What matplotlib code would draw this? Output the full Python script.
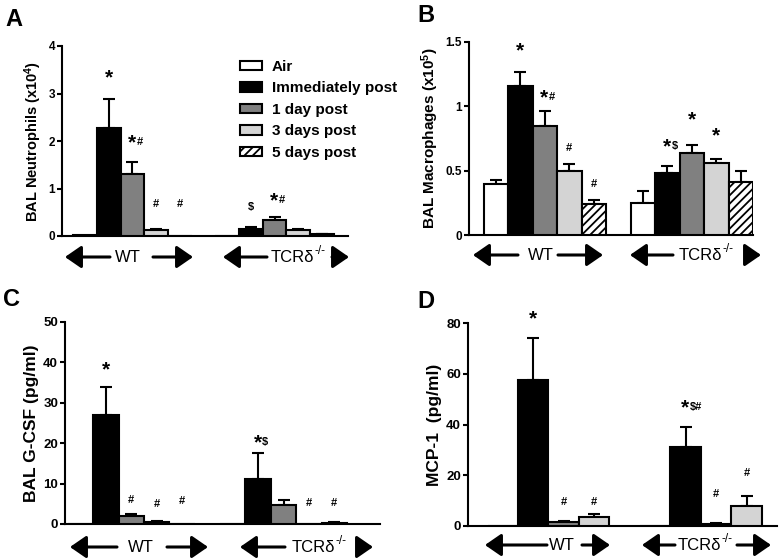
import numpy as np
import matplotlib
matplotlib.use('Agg')
import matplotlib.pyplot as plt

plt.rcParams['font.family'] = ['Liberation Sans', 'DejaVu Sans']
plt.rcParams['mathtext.default'] = 'regular'
plt.rcParams['hatch.linewidth'] = 1.3

categories = ['Air', 'Immediately post', '1 day post', '3 days post', '5 days post']
groups = ['WT', 'TCRδ']
group_sup = ['', '-/-']

# Panel A: BAL neutrophils (x10^4)
neut_wt = [0.02, 2.28, 1.30, 0.12, 0.0]
neut_wt_err = [0.0, 0.61, 0.26, 0.02, 0.0]
neut_ko = [0.0, 0.15, 0.33, 0.12, 0.04]
neut_ko_err = [0.0, 0.03, 0.08, 0.03, 0.01]

# Panel B: BAL macrophages (x10^5)
mac_wt = [0.40, 1.16, 0.85, 0.50, 0.24]
mac_wt_err = [0.03, 0.11, 0.11, 0.05, 0.03]
mac_ko = [0.25, 0.48, 0.64, 0.56, 0.415]
mac_ko_err = [0.09, 0.06, 0.06, 0.03, 0.08]

# Panel C: BAL G-CSF (pg/ml)
gcsf_wt = [0.0, 27.1, 1.9, 0.5, 0.0]
gcsf_wt_err = [0.0, 6.9, 0.6, 0.15, 0.0]
gcsf_ko = [0.0, 11.1, 4.6, 0.1, 0.3]
gcsf_ko_err = [0.0, 6.4, 1.4, 0.0, 0.1]

# Panel D: MCP-1 (pg/ml) -- air, immediately, 1 day, 3 days
mcp_wt = [0.0, 57.6, 1.5, 3.4]
mcp_wt_err = [0.0, 16.4, 0.5, 1.5]
mcp_ko = [0.0, 31.0, 0.8, 7.7]
mcp_ko_err = [0.0, 8.0, 0.3, 4.0]

# significance marks: (group index, category index, y, label)
sig_a = [(0, 1, 3.38, '*'), (0, 2, 2.0, '*#'), (0, 3, 0.68, '#'), (0, 4, 0.68, '#'),
         (1, 1, 0.61, '$'), (1, 2, 0.78, '*#')]
sig_b = [(0, 1, 1.45, '*'), (0, 2, 1.08, '*#'), (0, 3, 0.68, '#'), (0, 4, 0.40, '#'),
         (1, 1, 0.70, '*$'), (1, 2, 0.91, '*'), (1, 3, 0.79, '*')]
sig_c = [(0, 1, 38.7, '*'), (0, 2, 6.0, '#'), (0, 3, 5.0, '#'), (0, 4, 5.6, '#'),
         (1, 1, 20.6, '*$'), (1, 3, 5.3, '#'), (1, 4, 5.3, '#')]
sig_d = [(0, 1, 82.6, '*'), (0, 2, 9.5, '#'), (0, 3, 9.5, '#'),
         (1, 1, 47.3, '*$#'), (1, 2, 12.8, '#'), (1, 3, 20.7, '#')]

fills = ['white', 'black', '#808080', '#d4d4d4', 'white']
hatches = [None, None, None, None, '////']

W, H = 780, 559
fig = plt.figure(figsize=(W / 100, H / 100), dpi=100)


def px_axes(l, t, r, b):
    return fig.add_axes([l / W, 1 - b / H, (r - l) / W, (b - t) / H])


def draw_panel(ax, wt, wt_err, ko, ko_err, gap, sig, ylim, yticks, yticklabels, ylabel,
               xlim, tick_fs, label_fs):
    n = len(wt)
    for g, (vals, errs) in enumerate([(wt, wt_err), (ko, ko_err)]):
        for i in range(n):
            x = g * (n + gap) + i
            ax.bar(x, vals[i], width=1.0, color=fills[i], edgecolor='black',
                   linewidth=1.5, hatch=hatches[i], zorder=3)
            if errs[i] > 0:
                ax.errorbar(x, vals[i], yerr=[[0], [errs[i]]], fmt='none', ecolor='black',
                            elinewidth=1.5, capsize=4, capthick=1.5, zorder=2)
    for g, i, y, lab in sig:
        x = g * (n + gap) + i
        if lab.startswith('*'):
            rest = lab[1:]
            if rest:
                ax.annotate('*', (x, y), xytext=(2.5, -1.5), textcoords='offset points',
                            ha='right', va='center', fontsize=15, fontweight='bold',
                            annotation_clip=False)
                ax.annotate(rest, (x, y), xytext=(3, -1), textcoords='offset points',
                            ha='left', va='center', fontsize=8, fontweight='bold',
                            annotation_clip=False)
            else:
                ax.annotate('*', (x, y), xytext=(0, -1.5), textcoords='offset points',
                            ha='center', va='center', fontsize=15, fontweight='bold',
                            annotation_clip=False)
        else:
            ax.annotate(lab, (x, y), ha='center', va='center', fontsize=8,
                        fontweight='bold', annotation_clip=False)
    ax.set_xlim(*xlim)
    ax.set_ylim(*ylim)
    ax.set_yticks(yticks)
    ax.set_yticklabels(yticklabels, fontsize=tick_fs, fontweight='bold')
    ax.set_xticks([])
    for s in ['top', 'right']:
        ax.spines[s].set_visible(False)
    for s in ['left', 'bottom']:
        ax.spines[s].set_linewidth(1.5)
    ax.tick_params(axis='y', length=3.5, width=1.5, pad=1.5)
    ax.set_ylabel(ylabel, fontsize=label_fs, fontweight='bold', labelpad=3)


renderer = fig.canvas.get_renderer()


def arrow_label(g, cx, y, lh, lt, rt, rh):
    main = fig.text(0, 1 - y / H, groups[g], ha='left', va='center', fontsize=12)
    wm = main.get_window_extent(renderer).width
    ws = 0
    sup = None
    if group_sup[g]:
        sup = fig.text(0, 1 - (y - 6) / H, group_sup[g], ha='left', va='center', fontsize=8.5)
        ws = sup.get_window_extent(renderer).width + 1
    x0 = cx - (wm + ws) / 2
    main.set_x(x0 / W)
    if sup is not None:
        sup.set_x((x0 + wm + 1) / W)
    for tail, head in [(lt, lh), (rt, rh)]:
        fig.add_artist(matplotlib.patches.FancyArrowPatch(
            (tail / W, 1 - y / H), (head / W, 1 - y / H), transform=fig.transFigure,
            arrowstyle='-|>,head_length=0.55,head_width=0.38', mutation_scale=18,
            color='black', linewidth=2.2, shrinkA=0, shrinkB=0))


axA = px_axes(62, 46, 348, 236)
draw_panel(axA, neut_wt, neut_wt_err, neut_ko, neut_ko_err, 1, sig_a, (0, 4),
           [0, 1, 2, 3, 4], ['0', '1', '2', '3', '4'],
           'BAL Neutrophils (x10$^4$)', (-0.97, 11.1), 8.5, 10.5)
axB = px_axes(469, 42, 753, 235)
draw_panel(axB, mac_wt, mac_wt_err, mac_ko, mac_ko_err, 1, sig_b, (0, 1.5),
           [0, 0.5, 1, 1.5], ['0', '0.5', '1', '1.5'],
           'BAL Macrophages (x10$^5$)', (-1.1, 10.5), 8.5, 11)
axC = px_axes(65, 322, 380, 524)
draw_panel(axC, gcsf_wt, gcsf_wt_err, gcsf_ko, gcsf_ko_err, 1, sig_c, (0, 50),
           [0, 10, 20, 30, 40, 50], ['0', '10', '20', '30', '40', '50'],
           'BAL G-CSF (pg/ml)', (-0.61, 11.8), 9.5, 12.5)
axD = px_axes(468, 323, 777, 526)
draw_panel(axD, mcp_wt, mcp_wt_err, mcp_ko, mcp_ko_err, 1, sig_d, (0, 80),
           [0, 20, 40, 60, 80], ['0', '20', '40', '60', '80'],
           'MCP-1  (pg/ml)', (-1.14, 9.0), 9.5, 12.5)

handles = [matplotlib.patches.Patch(facecolor=fills[i], edgecolor='black', linewidth=1.5,
                                    hatch=hatches[i]) for i in range(5)]
fig.legend(handles, categories, loc='upper left', bbox_to_anchor=(240 / W, 1 - 60 / H),
           frameon=False, prop={'weight': 'bold', 'size': 11}, handlelength=1.44,
           handleheight=0.6, handletextpad=0.65, labelspacing=0.49, borderpad=0,
           borderaxespad=0)

# group labels with arrows
arrow_label(0, 128, 257, 65, 110, 153, 193)
arrow_label(1, 298, 257, 223, 267, 332, 349)
arrow_label(0, 541, 255, 473, 518, 558, 603)
arrow_label(1, 706, 255, 630, 673, 748, 761)
arrow_label(0, 141, 547, 70, 117, 167, 208)
arrow_label(1, 319, 547, 240, 285, 358, 373)
arrow_label(0, 562, 545, 485, 547, 582, 610)
arrow_label(1, 705, 545, 642, 675, 737, 771)

for lab, x, y in [('A', 14, 19), ('B', 426, 15), ('C', 12, 299), ('D', 426, 302)]:
    fig.text(x / W, 1 - y / H, lab, ha='center', va='center', fontsize=17, fontweight='bold')

fig.savefig('out.png', dpi=100)
